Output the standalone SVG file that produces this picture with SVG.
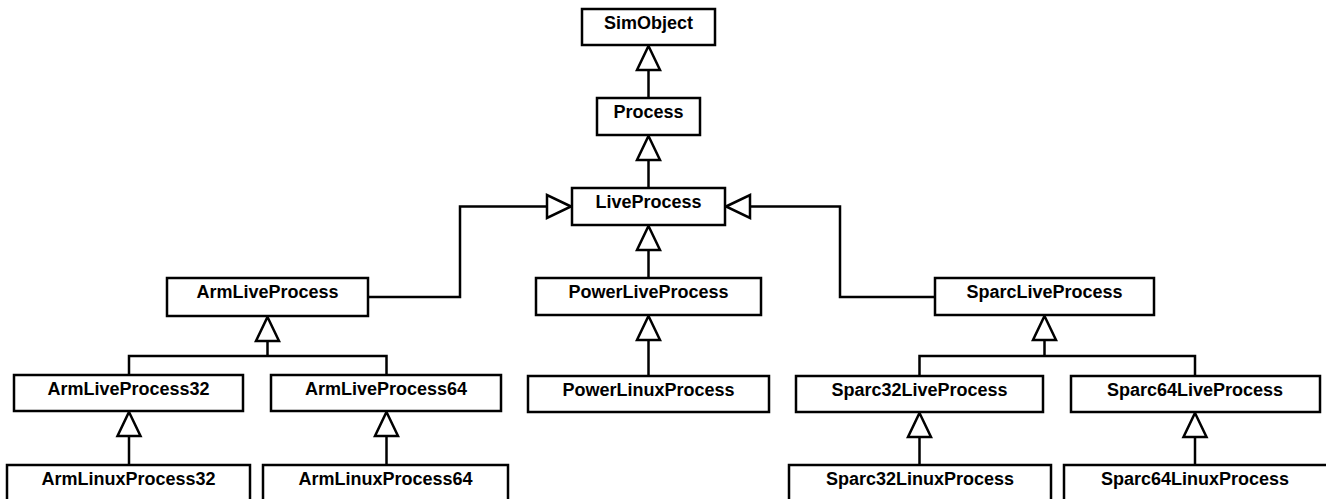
<svg xmlns="http://www.w3.org/2000/svg" xmlns:xlink="http://www.w3.org/1999/xlink" width="1326" height="499" viewBox="0 0 1326 499">
<style>
.box{fill:#fff;stroke:#000;stroke-width:2.5}
.conn{fill:none;stroke:#000;stroke-width:2.5}
.head{fill:#fff;stroke:#000;stroke-width:2.5;stroke-linejoin:miter}
text{font-family:"Liberation Sans",Arial,Helvetica,sans-serif;font-weight:bold;font-size:18px;text-anchor:middle;fill:#000}
</style>
<defs>
<path id="tu" class="head" d="M0,0 L11.5,24 L-11.5,24 Z"/>
<path id="tl" class="head" d="M0,0 L24,-11.5 L24,11.5 Z"/>
<path id="tr" class="head" d="M0,0 L-24,-11.5 L-24,11.5 Z"/>
</defs>
<rect width="1326" height="499" fill="#fff"/>
<g id="connectors">
<path class="conn" d="M648.5,98 V70"/>
<path class="conn" d="M648.5,188 V160"/>
<path class="conn" d="M648.5,278 V250"/>
<path class="conn" d="M368,297 H460 V206.5 H547"/>
<path class="conn" d="M935,297 H840 V206.5 H750"/>
<path class="conn" d="M267.5,341 V356 M129,375 V356 H386.5 V375"/>
<path class="conn" d="M648.5,376 V340"/>
<path class="conn" d="M1044.5,340 V356 M919.5,376 V356 H1195 V376"/>
<path class="conn" d="M129,465 V436"/>
<path class="conn" d="M386.5,465 V436"/>
<path class="conn" d="M919.5,465 V437"/>
<path class="conn" d="M1195,465 V437"/>
<use xlink:href="#tu" x="648.5" y="46"/>
<use xlink:href="#tu" x="648.5" y="136"/>
<use xlink:href="#tu" x="648.5" y="226"/>
<use xlink:href="#tr" x="571" y="206.5"/>
<use xlink:href="#tl" x="726" y="206.5"/>
<use xlink:href="#tu" x="267.5" y="317"/>
<use xlink:href="#tu" x="648.5" y="316"/>
<use xlink:href="#tu" x="1044.5" y="316"/>
<use xlink:href="#tu" x="129" y="412"/>
<use xlink:href="#tu" x="386.5" y="412"/>
<use xlink:href="#tu" x="919.5" y="413"/>
<use xlink:href="#tu" x="1195" y="413"/>
</g>
<g id="SimObject"><rect class="box" x="582" y="9" width="133" height="36"/><text x="648.5" y="29">SimObject</text></g>
<g id="Process"><rect class="box" x="597" y="98" width="103" height="37"/><text x="648.5" y="118">Process</text></g>
<g id="LiveProcess"><rect class="box" x="572" y="188" width="153" height="37"/><text x="648.5" y="208">LiveProcess</text></g>
<g id="ArmLiveProcess"><rect class="box" x="167" y="278" width="201" height="38"/><text x="267.5" y="298">ArmLiveProcess</text></g>
<g id="PowerLiveProcess"><rect class="box" x="536" y="278" width="225" height="37"/><text x="648.5" y="298">PowerLiveProcess</text></g>
<g id="SparcLiveProcess"><rect class="box" x="935" y="278" width="219" height="37"/><text x="1044.5" y="298">SparcLiveProcess</text></g>
<g id="ArmLiveProcess32"><rect class="box" x="14" y="375" width="229" height="36"/><text x="128.5" y="395">ArmLiveProcess32</text></g>
<g id="ArmLiveProcess64"><rect class="box" x="271" y="375" width="230" height="36"/><text x="386" y="395">ArmLiveProcess64</text></g>
<g id="PowerLinuxProcess"><rect class="box" x="528" y="376" width="241" height="36"/><text x="648.5" y="396">PowerLinuxProcess</text></g>
<g id="Sparc32LiveProcess"><rect class="box" x="796" y="376" width="247" height="36"/><text x="919.5" y="396">Sparc32LiveProcess</text></g>
<g id="Sparc64LiveProcess"><rect class="box" x="1071" y="376" width="249" height="36"/><text x="1195" y="396">Sparc64LiveProcess</text></g>
<g id="ArmLinuxProcess32"><rect class="box" x="7" y="465" width="243" height="50"/><text x="128.5" y="485">ArmLinuxProcess32</text></g>
<g id="ArmLinuxProcess64"><rect class="box" x="263" y="465" width="245" height="50"/><text x="385.5" y="485">ArmLinuxProcess64</text></g>
<g id="Sparc32LinuxProcess"><rect class="box" x="789" y="465" width="262" height="50"/><text x="920" y="485">Sparc32LinuxProcess</text></g>
<g id="Sparc64LinuxProcess"><rect class="box" x="1064" y="465" width="264" height="50"/><text x="1195" y="485">Sparc64LinuxProcess</text></g>
</svg>
